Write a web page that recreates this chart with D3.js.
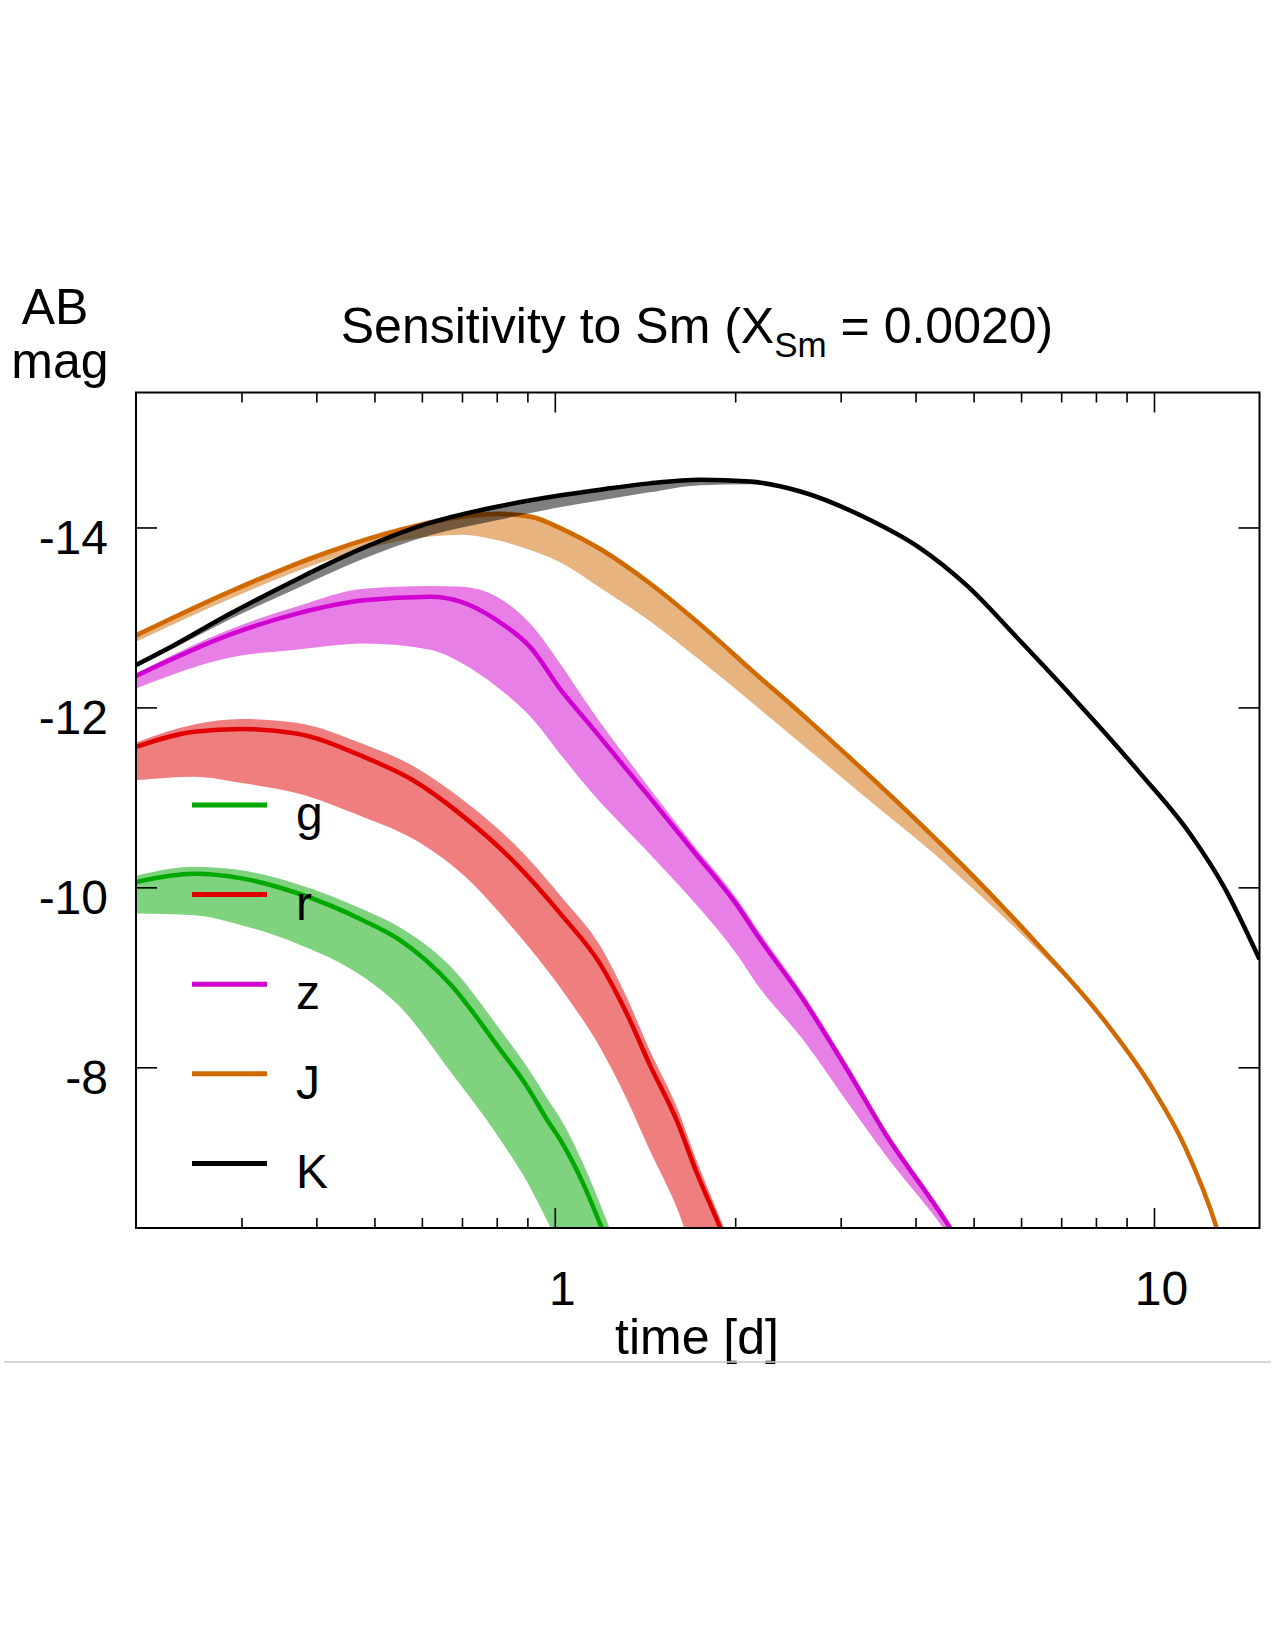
<!DOCTYPE html>
<html>
<head>
<meta charset="utf-8">
<title>Sensitivity to Sm</title>
<script src="https://d3js.org/d3.v7.min.js"></script>
<style>
  body { margin: 0; background: #fff; }
  text { font-family: "Liberation Sans", Arial, Helvetica, sans-serif; fill: #000; }
</style>
</head>
<body>
<script>
// ---- data ----
const bandNames = ['g', 'r', 'z', 'J', 'K'];
const bandColors = ['#00a800', '#e00000', '#d000d0', '#d06a00', '#000000'];

const xMajor = [1, 10];
const xMinor = [0.3, 0.4, 0.5, 0.6, 0.7, 0.8, 0.9, 2, 3, 4, 5, 6, 7, 8, 9];
const yMajor = [-14, -12, -10, -8];

const gTime = [0.2, 0.25, 0.3, 0.37, 0.48, 0.55, 0.67, 0.81, 0.9, 0.97, 1.02, 1.12, 1.2, 1.3];
const gMid  = [-10.06, -10.15, -10.1, -9.94, -9.63, -9.42, -8.92, -8.2, -7.78, -7.42, -7.2, -6.68, -6.2, -5.6];
const gHi   = [-10.13, -10.23, -10.19, -10.04, -9.75, -9.56, -9.12, -8.42, -8.0, -7.66, -7.44, -6.9, -6.42, -5.82];
const gLo   = [-9.71, -9.69, -9.58, -9.38, -9.0, -8.68, -7.95, -7.2, -6.72, -6.3, -6.0, -5.4, -4.9, -4.3];

const rTime = [0.2, 0.25, 0.3, 0.37, 0.48, 0.58, 0.7, 0.85, 1.03, 1.19, 1.32, 1.44, 1.6, 1.72, 1.89, 2.0];
const rMid  = [-11.56, -11.73, -11.76, -11.71, -11.45, -11.19, -10.8, -10.3, -9.68, -9.15, -8.59, -8.03, -7.4, -6.85, -6.21, -5.8];
const rHi   = [-11.61, -11.81, -11.87, -11.83, -11.59, -11.35, -10.98, -10.5, -9.88, -9.35, -8.77, -8.19, -7.55, -6.98, -6.31, -5.9];
const rLo   = [-11.19, -11.23, -11.16, -11.05, -10.78, -10.54, -10.15, -9.55, -8.85, -8.22, -7.64, -7.08, -6.43, -5.85, -5.21, -4.8];

const zTime = [0.2, 0.29, 0.37, 0.48, 0.62, 0.7, 0.8, 0.91, 1.03, 1.13, 1.44, 1.7, 2.04, 2.15, 2.6, 3.11, 3.54, 4.45, 4.57, 4.8];
const zMid  = [-12.35, -12.82, -13.04, -13.19, -13.23, -13.17, -12.97, -12.67, -12.17, -11.85, -11.0, -10.41, -9.75, -9.52, -8.75, -7.92, -7.29, -6.33, -6.21, -5.95];
const zHi   = [-12.38, -12.88, -13.12, -13.32, -13.35, -13.34, -13.23, -12.93, -12.45, -12.05, -11.1, -10.48, -9.82, -9.59, -8.81, -7.98, -7.34, -6.38, -6.26, -6.0];
const zLo   = [-12.21, -12.56, -12.64, -12.71, -12.64, -12.49, -12.23, -11.9, -11.45, -11.12, -10.37, -9.85, -9.2, -8.97, -8.3, -7.57, -7.05, -6.21, -6.1, -5.85];

const jTime = [0.2, 0.29, 0.42, 0.55, 0.7, 0.8, 0.91, 1.03, 1.19, 1.44, 1.75, 2.2, 2.47, 2.73, 3.4, 4.2, 5.0, 6.47, 8.15, 9.87, 11.24, 12.73, 13.5];
const jMid  = [-12.8, -13.3, -13.73, -13.97, -14.12, -14.15, -14.12, -13.98, -13.76, -13.38, -12.92, -12.33, -12.04, -11.78, -11.2, -10.62, -10.12, -9.33, -8.57, -7.8, -7.13, -6.21, -5.6];
const jHi   = [-12.83, -13.33, -13.76, -14.0, -14.15, -14.18, -14.15, -14.01, -13.79, -13.41, -12.95, -12.36, -12.07, -11.81, -11.23, -10.65, -10.15, -9.36, -8.6, -7.83, -7.16, -6.24, -5.63];
const jLo   = [-12.73, -13.22, -13.64, -13.85, -13.92, -13.86, -13.75, -13.6, -13.33, -12.96, -12.52, -11.98, -11.7, -11.46, -10.93, -10.43, -9.98, -9.27, -8.56, -7.8, -7.13, -6.21, -5.6];

const kTime = [0.2, 0.224, 0.287, 0.37, 0.478, 0.618, 0.8, 1.03, 1.19, 1.44, 1.75, 2.12, 2.57, 3.32, 4.03, 4.88, 5.9, 7.35, 9.48, 11.5, 13.1, 15];
const kMid  = [-12.47, -12.64, -13.04, -13.42, -13.77, -14.05, -14.23, -14.36, -14.42, -14.49, -14.53, -14.51, -14.4, -14.1, -13.79, -13.35, -12.78, -12.1, -11.27, -10.59, -10.0, -9.2];
const kHi   = [-12.48, -12.65, -13.05, -13.43, -13.78, -14.06, -14.24, -14.37, -14.43, -14.5, -14.54, -14.52, -14.41, -14.11, -13.8, -13.36, -12.79, -12.11, -11.28, -10.6, -10.01, -9.21];
const kLo   = [-12.45, -12.61, -12.98, -13.32, -13.65, -13.91, -14.08, -14.23, -14.3, -14.39, -14.47, -14.48, -14.39, -14.1, -13.79, -13.35, -12.78, -12.1, -11.27, -10.59, -10.0, -9.2];

const bandTimes = [gTime, rTime, zTime, jTime, kTime];
const bandMid = [gMid, rMid, zMid, jMid, kMid];
const bandHi = [gHi, rHi, zHi, jHi, kHi];
const bandLo = [gLo, rLo, zLo, jLo, kLo];

// ---- layout ----
let width = 1275;
let height = 1650;
let plot = {left: 136, right: 1259.5, top: 392.5, bottom: 1228};
let tickFont = 48;
let labelFont = 50;

let svg = d3.select('body')
    .append('svg')
    .attr('width', width)
    .attr('height', height);

let x = d3.scaleLog().domain([0.2, 15]).range([plot.left, plot.right]);
let y = d3.scaleLinear().domain([-6.214, -15.5]).range([plot.bottom, plot.top]);

svg.append('defs').append('clipPath').attr('id', 'clip')
    .append('rect')
    .attr('x', plot.left).attr('y', plot.top)
    .attr('width', plot.right - plot.left).attr('height', plot.bottom - plot.top);

let series = bandNames.map((name, i) => ({
    name: name,
    color: bandColors[i],
    points: bandTimes[i].map((t, j) => ({t: t, mid: bandMid[i][j], hi: bandHi[i][j], lo: bandLo[i][j]}))
}));

let area = d3.area()
    .x(d => x(d.t))
    .y0(d => y(d.lo))
    .y1(d => y(d.hi))
    .curve(d3.curveMonotoneX);

let line = d3.line()
    .x(d => x(d.t))
    .y(d => y(d.mid))
    .curve(d3.curveMonotoneX);

let curves = svg.append('g').attr('clip-path', 'url(#clip)');

series.forEach(s => {
    curves.append('path')
        .datum(s.points)
        .attr('d', area)
        .attr('fill', s.color)
        .attr('fill-opacity', 0.5);
    curves.append('path')
        .datum(s.points)
        .attr('d', line)
        .attr('fill', 'none')
        .attr('stroke', s.color)
        .attr('stroke-width', 4.5)
        .attr('stroke-linejoin', 'round');
});

// ---- axes (ticks point inward, gnuplot style) ----
function styleAxis(g) {
    g.select('.domain').remove();
    g.selectAll('line').attr('stroke', '#000').attr('stroke-width', 1.6);
    g.attr('font-size', tickFont).attr('font-family', null);
}

svg.append('g')
    .attr('transform', `translate(0,${plot.bottom})`)
    .call(d3.axisBottom(x).tickValues(xMajor).tickSize(-20).tickPadding(43).tickFormat(d => String(d)))
    .call(styleAxis)
    .call(g => g.selectAll('text').attr('dx', 7));
svg.append('g')
    .attr('transform', `translate(0,${plot.bottom})`)
    .call(d3.axisBottom(x).tickValues(xMinor).tickSize(-10).tickFormat(''))
    .call(styleAxis);
svg.append('g')
    .attr('transform', `translate(0,${plot.top})`)
    .call(d3.axisTop(x).tickValues(xMajor).tickSize(-20).tickFormat(''))
    .call(styleAxis);
svg.append('g')
    .attr('transform', `translate(0,${plot.top})`)
    .call(d3.axisTop(x).tickValues(xMinor).tickSize(-10).tickFormat(''))
    .call(styleAxis);

svg.append('g')
    .attr('transform', `translate(${plot.left},0)`)
    .call(d3.axisLeft(y).tickValues(yMajor).tickSize(-21).tickPadding(28).tickFormat(d => String(d)))
    .call(styleAxis)
    .call(g => g.selectAll('text').attr('dy', '0.55em'));
svg.append('g')
    .attr('transform', `translate(${plot.right},0)`)
    .call(d3.axisRight(y).tickValues(yMajor).tickSize(-21).tickFormat(''))
    .call(styleAxis);

svg.append('rect')
    .attr('x', plot.left).attr('y', plot.top)
    .attr('width', plot.right - plot.left).attr('height', plot.bottom - plot.top)
    .attr('fill', 'none')
    .attr('stroke', '#000')
    .attr('stroke-width', 2);

// ---- legend ----
let legend = svg.append('g');
series.forEach((s, i) => {
    let ly = 805 + i * 89.6;
    legend.append('line')
        .attr('x1', 192).attr('x2', 267)
        .attr('y1', ly).attr('y2', ly)
        .attr('stroke', s.color)
        .attr('stroke-width', 5);
    legend.append('text')
        .attr('x', 296).attr('y', ly + 25)
        .attr('font-size', tickFont)
        .text(s.name);
});

// ---- titles ----
let title = svg.append('text')
    .attr('x', 697).attr('y', 343)
    .attr('text-anchor', 'middle')
    .attr('font-size', labelFont);
title.append('tspan').text('Sensitivity to Sm (X');
title.append('tspan').attr('font-size', 35).attr('dy', 14).text('Sm');
title.append('tspan').attr('dy', -14).text(' = 0.0020)');

svg.append('text')
    .attr('x', 55).attr('y', 324)
    .attr('text-anchor', 'middle')
    .attr('font-size', labelFont)
    .text('AB');
svg.append('text')
    .attr('x', 60).attr('y', 378)
    .attr('text-anchor', 'middle')
    .attr('font-size', labelFont)
    .text('mag');

svg.append('text')
    .attr('x', 697).attr('y', 1354)
    .attr('text-anchor', 'middle')
    .attr('font-size', labelFont)
    .text('time [d]');

svg.append('line')
    .attr('x1', 4).attr('x2', 1271)
    .attr('y1', 1362).attr('y2', 1362)
    .attr('stroke', '#c8c8c8')
    .attr('stroke-width', 1.5);
</script>
</body>
</html>
